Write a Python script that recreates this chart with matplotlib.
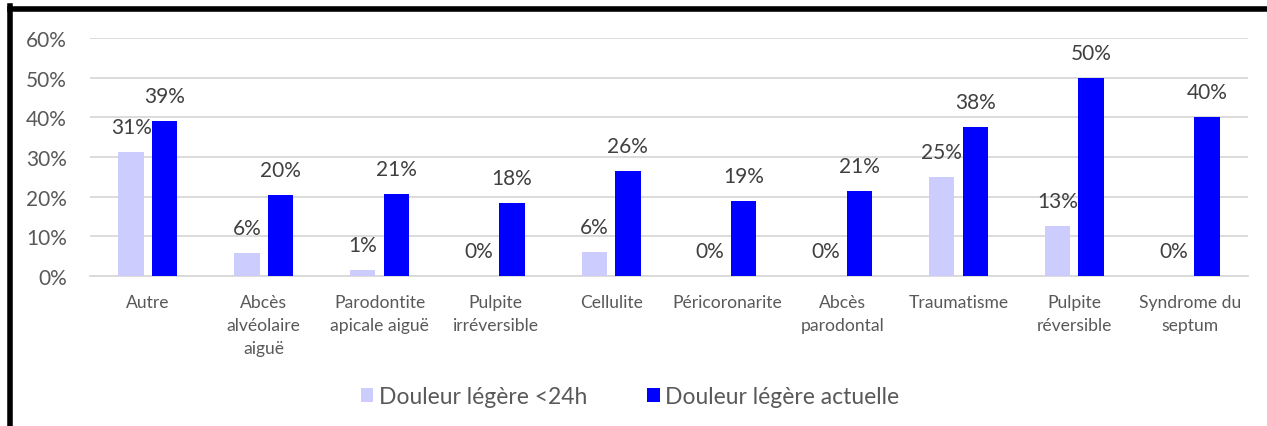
import matplotlib
matplotlib.use("Agg")
import matplotlib.pyplot as plt
import numpy as np
from matplotlib.lines import Line2D

categories = ["Autre", "Abcès\nalvéolaire\naiguë", "Parodontite\napicale aiguë",
              "Pulpite\nirréversible", "Cellulite", "Péricoronarite",
              "Abcès\nparodontal", "Traumatisme", "Pulpite\nréversible",
              "Syndrome du\nseptum"]
douleur_24h = [0.3125, 0.0588, 0.0145, 0.0, 0.06, 0.0, 0.0, 0.25, 0.125, 0.0]
douleur_actuelle = [0.39, 0.2045, 0.2065, 0.1837, 0.2643, 0.1884, 0.2143, 0.375, 0.50, 0.40]
yticks = [0, 0.1, 0.2, 0.3, 0.4, 0.5, 0.6]
series_names = ["Douleur légère <24h", "Douleur légère actuelle"]

plt.rcParams['font.family'] = ['Lato', 'DejaVu Sans']
txt = '#595959'
lab = '#404040'

fig = plt.figure(figsize=(12.67, 4.27), dpi=100)
ax = fig.add_axes([90/1267, 1-277/427, (1248-90)/1267, (277-39)/427])

x = np.arange(len(categories))
w = 0.22
off = 0.145
b1 = ax.bar(x - off, douleur_24h, w, color='#CCCCFF', label=series_names[0], zorder=3)
b2 = ax.bar(x + off, douleur_actuelle, w, color='#0000FF', label=series_names[1], zorder=3)

def fmt(v):
    return f"{int(v*100 + 0.5)}%"

for bars, vals in ((b1, douleur_24h), (b2, douleur_actuelle)):
    for r, v in zip(bars, vals):
        ax.annotate(fmt(v), (r.get_x() + r.get_width()/2, v), xytext=(0, 18),
                    textcoords='offset points', ha='center', va='center',
                    fontsize=15, color=lab, zorder=4)

ax.set_xlim(-0.5, len(categories) - 0.5)
ax.set_ylim(0, 0.6)
ax.set_yticks(yticks)
ax.set_yticklabels([f"{int(round(t*100))}%" for t in yticks], fontsize=15, color=txt)
ax.set_xticks(x)
ax.set_xticklabels(categories, fontsize=12.6, color=txt, linespacing=1.55, va='top')
ax.tick_params(axis='both', length=0)
ax.tick_params(axis='x', pad=13)
ax.tick_params(axis='y', pad=16.5)
ax.grid(axis='y', color='#d9d9d9', linewidth=1.3, zorder=0)
for s in ['top', 'right', 'left']:
    ax.spines[s].set_visible(False)
ax.spines['bottom'].set_color('#d9d9d9')
ax.spines['bottom'].set_linewidth(1.3)

leg = fig.legend(handles=[b1, b2], labels=series_names, loc='center',
                 bbox_to_anchor=(630/1267, 1-398/427), ncol=2, frameon=False,
                 fontsize=16.5, handlelength=0.55, handleheight=0.55,
                 handletextpad=0.25, columnspacing=2.6)
for t in leg.get_texts():
    t.set_color(txt)

fig.add_artist(Line2D([9.5/1267, 9.5/1267], [0, 1-7/427], transform=fig.transFigure,
                      color='black', linewidth=4, solid_capstyle='projecting'))
fig.add_artist(Line2D([9.5/1267, 1], [1-9.5/427, 1-9.5/427], transform=fig.transFigure,
                      color='black', linewidth=4, solid_capstyle='projecting'))

fig.savefig("out.png", dpi=100)
